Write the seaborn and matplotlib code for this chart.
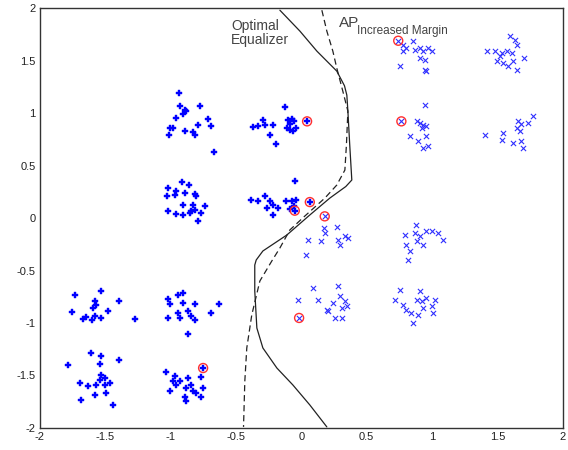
import numpy as np
import pandas as pd
import matplotlib
matplotlib.use("Agg")
import matplotlib.pyplot as plt
import seaborn as sns

# ---- data: "+" class symbols (left of boundary) ----
plus_x = [
    -0.935, -0.924, -0.891, -0.878, -0.904, -0.771, -0.955, -1.006, -0.981, -1.011, -0.891, -0.828, -0.815, -0.789, -0.713, -0.687, -0.669,
    -0.126, -0.369, -0.330, -0.292, -0.279, -0.216, -0.241, -0.190, -0.101, -0.075, -0.113, -0.088, -0.063, -0.037, -0.088, -0.057, 0.044,
    -0.915, -0.857, -1.019, -0.955, -1.026, -0.967, -0.891, -0.815, -0.802, -0.904, -0.828, -0.815, -0.840, -0.738, -1.019, -0.960, -0.904, -0.853, -0.764, -0.789,
    -0.050, -0.381, -0.330, -0.279, -0.241, -0.216, -0.178, -0.216, -0.266, -0.119, -0.075, -0.037, -0.057, -0.088, 0.065, -0.050,
    -1.733, -1.528, -1.580, -1.567, -1.593, -1.750, -1.643, -1.604, -1.668, -1.528, -1.477, -1.393, -1.273, -1.580,
    -0.943, -0.904, -1.019, -1.006, -0.904, -0.815, -0.629, -0.866, -0.943, -1.019, -0.929, -0.840, -0.815, -0.687, -0.866,
    -1.605, -1.528, -1.541, -1.393, -1.784, -1.528, -1.503, -1.465, -1.694, -1.631, -1.567, -1.503, -1.580, -1.490, -1.681, -1.439, -1.541,
    -0.751, -0.764, -1.031, -0.967, -0.981, -0.929, -0.866, -0.840, -0.955, -1.006, -0.878, -0.828, -0.755, -0.891, -0.878, -0.764, -0.807,
]
plus_y = [
    1.190, 1.064, 1.031, 1.016, 0.990, 1.064, 0.952, 0.857, 0.857, 0.788, 0.832, 0.819, 0.793, 0.883, 0.945, 0.873, 0.629,
    1.054, 0.864, 0.873, 0.936, 0.883, 0.889, 0.793, 0.705, 0.936, 0.946, 0.857, 0.841, 0.825, 0.857, 0.895, 0.921, 0.921,
    0.343, 0.317, 0.286, 0.254, 0.206, 0.222, 0.238, 0.229, 0.206, 0.121, 0.127, 0.079, 0.063, 0.111, 0.070, 0.038, 0.032, 0.048, 0.048, -0.026,
    0.355, 0.174, 0.165, 0.206, 0.159, 0.127, 0.095, 0.032, 0.095, 0.165, 0.159, 0.174, 0.111, 0.088, 0.152, 0.070,
    -0.730, -0.692, -0.794, -0.825, -0.857, -0.895, -0.946, -0.968, -0.959, -0.952, -0.889, -0.794, -0.959, -0.936,
    -0.730, -0.714, -0.768, -0.819, -0.810, -0.819, -0.819, -0.889, -0.905, -0.952, -0.952, -0.937, -0.968, -0.905, -1.105,
    -1.286, -1.317, -1.390, -1.350, -1.403, -1.492, -1.524, -1.571, -1.571, -1.603, -1.587, -1.587, -1.683, -1.667, -1.730, -1.778, -1.540,
    -1.429, -1.517, -1.467, -1.508, -1.556, -1.556, -1.524, -1.587, -1.587, -1.651, -1.619, -1.651, -1.619, -1.708, -1.746, -1.708, -1.667,
]

# ---- data: "x" class symbols (right of boundary) ----
cross_x = [
    0.179, 0.172, 0.270, 0.052, 0.154, 0.281, 0.333, 0.358, 0.294, 0.039, 0.179,
    0.876, 0.791, 0.868, 0.906, 0.804, 0.830, 0.817, 0.881, 0.932, 0.996, 1.047, 1.085, 0.957,
    -0.017, -0.024, 0.090, 0.128, 0.193, 0.243, 0.281, 0.294, 0.333, 0.346, 0.308, 0.256, 0.308, 0.205,
    0.753, 0.906, 0.715, 0.779, 0.804, 0.842, 0.881, 0.919, 0.957, 1.021, 0.996, 1.008, 0.932, 0.894, 0.855,
    0.741, 0.779, 0.804, 0.779, 0.855, 0.868, 0.906, 0.932, 0.970, 0.906, 0.945, 0.996, 0.753, 0.945, 0.957,
    1.599, 1.637, 1.650, 1.417, 1.480, 1.531, 1.569, 1.608, 1.493, 1.544, 1.582, 1.620, 1.650, 1.701, 1.518,
    0.765, 0.945, 0.881, 0.906, 0.932, 0.957, 0.919, 0.830, 0.894, 0.957, 0.970, 0.932,
    1.773, 1.658, 1.683, 1.734, 1.671, 1.402, 1.544, 1.531, 1.620, 1.683, 1.696, 1.650,
]
cross_y = [
    0.016, -0.095, -0.086, -0.207, -0.222, -0.207, -0.174, -0.190, -0.254, -0.350, -0.143,
    -0.064, -0.159, -0.143, -0.174, -0.254, -0.317, -0.397, -0.222, -0.254, -0.127, -0.143, -0.206, -0.121,
    -0.952, -0.778, -0.667, -0.778, -0.873, -0.810, -0.651, -0.746, -0.794, -0.841, -0.857, -0.952, -0.952, -0.889,
    -0.683, -0.698, -0.778, -0.826, -0.873, -0.905, -0.778, -0.794, -0.762, -0.778, -0.841, -0.905, -0.857, -0.921, -1.000,
    1.689, 1.651, 1.619, 1.587, 1.683, 1.603, 1.619, 1.587, 1.619, 1.524, 1.508, 1.587, 1.444, 1.413, 1.397,
    1.730, 1.698, 1.651, 1.587, 1.587, 1.571, 1.587, 1.571, 1.492, 1.476, 1.444, 1.492, 1.413, 1.524, 1.540,
    0.921, 1.073, 0.921, 0.905, 0.889, 0.873, 0.857, 0.778, 0.730, 0.778, 0.683, 0.667,
    0.968, 0.921, 0.895, 0.905, 0.825, 0.793, 0.810, 0.746, 0.714, 0.730, 0.667, 0.857,
]

# ---- data: circled (error) symbols ----
circ_x = [0.044, 0.741, 0.765, 0.065, -0.050, 0.179, -0.017, -0.751]
circ_y = [0.921, 1.689, 0.921, 0.152, 0.070, 0.016, -0.952, -1.429]

# ---- data: decision boundaries ----
opt_x = [-0.164, -0.011, 0.119, 0.271, 0.330, 0.348, 0.356, 0.370, 0.386, 0.340, 0.218, 0.065, -0.111, -0.294, -0.345, -0.356, -0.356, -0.340, -0.294, -0.187, -0.065, 0.065, 0.195]
opt_y = [1.980, 1.781, 1.590, 1.400, 1.260, 1.171, 1.019, 0.700, 0.362, 0.300, 0.190, 0.029, -0.162, -0.314, -0.400, -0.448, -0.695, -1.048, -1.238, -1.429, -1.590, -1.781, -1.990]
ap_x = [0.157, 0.195, 0.241, 0.271, 0.317, 0.356, 0.345, 0.333, 0.271, 0.180, 0.027, -0.088, -0.164, -0.226, -0.317, -0.379, -0.417, -0.432, -0.442]
ap_y = [1.980, 1.781, 1.590, 1.429, 1.210, 1.019, 0.700, 0.457, 0.314, 0.190, 0.019, -0.114, -0.286, -0.410, -0.600, -0.924, -1.238, -1.552, -1.990]

ticks = [-2, -1.5, -1, -0.5, 0, 0.5, 1, 1.5, 2]
tick_labels = ["-2", "-1.5", "-1", "-0.5", "0", "0.5", "1", "1.5", "2"]

sns.set_theme(style="white")
plt.rcParams["font.family"] = ["Liberation Sans", "DejaVu Sans"]
plt.rcParams["axes.unicode_minus"] = False

fig = plt.figure(figsize=(5.68, 4.5), dpi=100)
ax = fig.add_axes([0.070, 0.049, 0.921, 0.933])

plus_df = pd.DataFrame({"x": plus_x, "y": plus_y})
cross_df = pd.DataFrame({"x": cross_x, "y": cross_y})
circ_df = pd.DataFrame({"x": circ_x, "y": circ_y})

sns.scatterplot(data=plus_df, x="x", y="y", marker="P", s=20, color="#0000ff",
                edgecolor="#0000ff", linewidth=0.3, ax=ax, zorder=3)
sns.scatterplot(data=cross_df, x="x", y="y", marker="x", s=14, color="#3030ff",
                linewidth=0.8, ax=ax, zorder=3)
sns.scatterplot(data=circ_df, x="x", y="y", marker="o", s=42, facecolor="none",
                edgecolor="#ff3030", linewidth=1.0, ax=ax, zorder=4)

sns.lineplot(x=opt_x, y=opt_y, sort=False, estimator=None, color="#222222",
             linewidth=0.9, ax=ax, zorder=2)
sns.lineplot(x=ap_x, y=ap_y, sort=False, estimator=None, color="#222222",
             linewidth=0.9, linestyle=(0, (5, 3)), ax=ax, zorder=2)

ax.text(-0.535, 1.90, "Optimal\nEqualizer", fontsize=10, color="#444444",
        ha="left", va="top", linespacing=1.05)
ax.text(0.285, 1.92, "AP", fontsize=11, color="#444444", ha="left", va="top")
ax.text(0.425, 1.84, "Increased Margin", fontsize=8.5, color="#444444", ha="left", va="top")

ax.set_xlim(-2, 2)
ax.set_ylim(-2, 2)
ax.set_xticks(ticks)
ax.set_xticklabels(tick_labels)
ax.set_yticks(ticks)
ax.set_yticklabels(tick_labels)
ax.set_xlabel("")
ax.set_ylabel("")
ax.tick_params(axis="both", labelsize=8, colors="#222222", direction="in",
               length=0, pad=3)
for side in ["left", "right", "top", "bottom"]:
    ax.spines[side].set_visible(True)
    ax.spines[side].set_color("#333333")
    ax.spines[side].set_linewidth(1.0)

fig.savefig("out.png", dpi=100)
